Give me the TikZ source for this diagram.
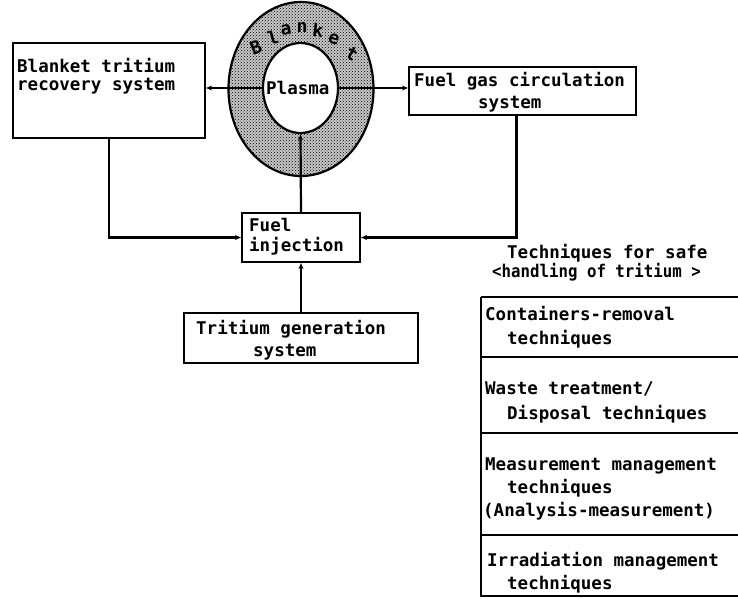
\documentclass[tikz,border=0pt]{standalone}
\usepackage{fontspec}
\usepackage{graphicx}
\newfontfamily\dm{DejaVu Sans Mono Bold}
\usetikzlibrary{shapes.geometric,patterns,arrows.meta}
\begin{document}
\begin{tikzpicture}[x=1pt,y=-1pt,
  txt/.style={anchor=base west,inner sep=0pt,font=\dm\fontsize{17.5}{20}\selectfont},
  letter/.style={anchor=center,inner sep=0pt,font=\dm\fontsize{18}{20}\selectfont},
  boxed/.style={draw,line width=2.2pt,inner sep=0pt,rectangle},
  arr/.style={line width=2.2pt,-{Stealth[length=6pt,width=5pt]}},
  rule/.style={line width=2.2pt}]
\useasboundingbox (0,0) rectangle (738,598);

% boxes
\node[boxed,minimum width=192pt,minimum height=95pt] (brs) at (109,90.5) {};
\node[boxed,minimum width=227pt,minimum height=48pt] (fuelgas) at (522.5,91) {};
\node[boxed,minimum width=118pt,minimum height=49pt] (fuelinj) at (301,237.5) {};
\node[boxed,minimum width=234pt,minimum height=50pt] (tritgen) at (301,338) {};

% torus
\node[ellipse,draw,line width=2.2pt,preaction={fill=black!22},pattern=crosshatch dots,inner sep=0pt,
      minimum width=145pt,minimum height=174pt] (ring) at (301,89) {};
\node[ellipse,draw,line width=2.2pt,fill=white,inner sep=0pt,
      minimum width=75pt,minimum height=90pt] (plasma) at (300.5,88) {};
\node[txt] (plasmatxt) at (266,94) {Plasma};

% Blanket letters
\node[letter,rotate=22] (lB) at (256,47) {B};
\node[letter,rotate=15] (ll) at (273,37) {l};
\node[letter,rotate=8] (la) at (286,30) {a};
\node[letter] (ln) at (302,27) {n};
\node[letter,rotate=-6] (lk) at (318,30) {k};
\node[letter,rotate=-15] (le) at (334,39) {e};
\node[letter,rotate=-30] (lt) at (352,54) {t};

% box texts
\node[txt] (t1a) at (17,72) {Blanket tritium};
\node[txt] (t1b) at (17,90) {recovery system};
\node[txt] (t2a) at (414,86) {Fuel gas circulation};
\node[txt] (t2b) at (478,108) {system};
\node[txt] (t3a) at (249,231) {Fuel};
\node[txt] (t3b) at (249,251) {injection};
\node[txt] (t4a) at (196,334) {Tritium generation};
\node[txt] (t4b) at (253,356) {system};

% connectors
\draw[arr] (plasma.west) -- (plasma.west -| brs.east);
\draw[arr] (plasma.east) -- (plasma.east -| fuelgas.west);
\draw[arr] (fuelinj.north) -- (plasma.south);
\draw[arr] (tritgen.north) -- (fuelinj.south);
\draw[arr] (brs.south) |- (fuelinj.west);
\draw[arr] ([xshift=-6pt]fuelgas.south) |- (fuelinj.east);

% title
\node[txt] (title1) at (507,258) {Techniques for safe};
\node[txt] (title2) at (492,277) {\scalebox{0.9}[1]{<handling of tritium >}};

% table
\draw[rule] (481,297) -- (481,597);
\foreach \yy in {297,357,433,535,596} \draw[rule] (481,\yy) -- (738,\yy);
\node[txt] (c1a) at (485,320) {Containers-removal};
\node[txt] (c1b) at (507,344) {techniques};
\node[txt] (c2a) at (485,394) {Waste treatment/};
\node[txt] (c2b) at (507,419) {Disposal techniques};
\node[txt] (c3a) at (485,470) {Measurement management};
\node[txt] (c3b) at (507,493) {techniques};
\node[txt] (c3c) at (483,516) {(Analysis-measurement)};
\node[txt] (c4a) at (487,566) {Irradiation management};
\node[txt] (c4b) at (507,589) {techniques};
\end{tikzpicture}
\end{document}
